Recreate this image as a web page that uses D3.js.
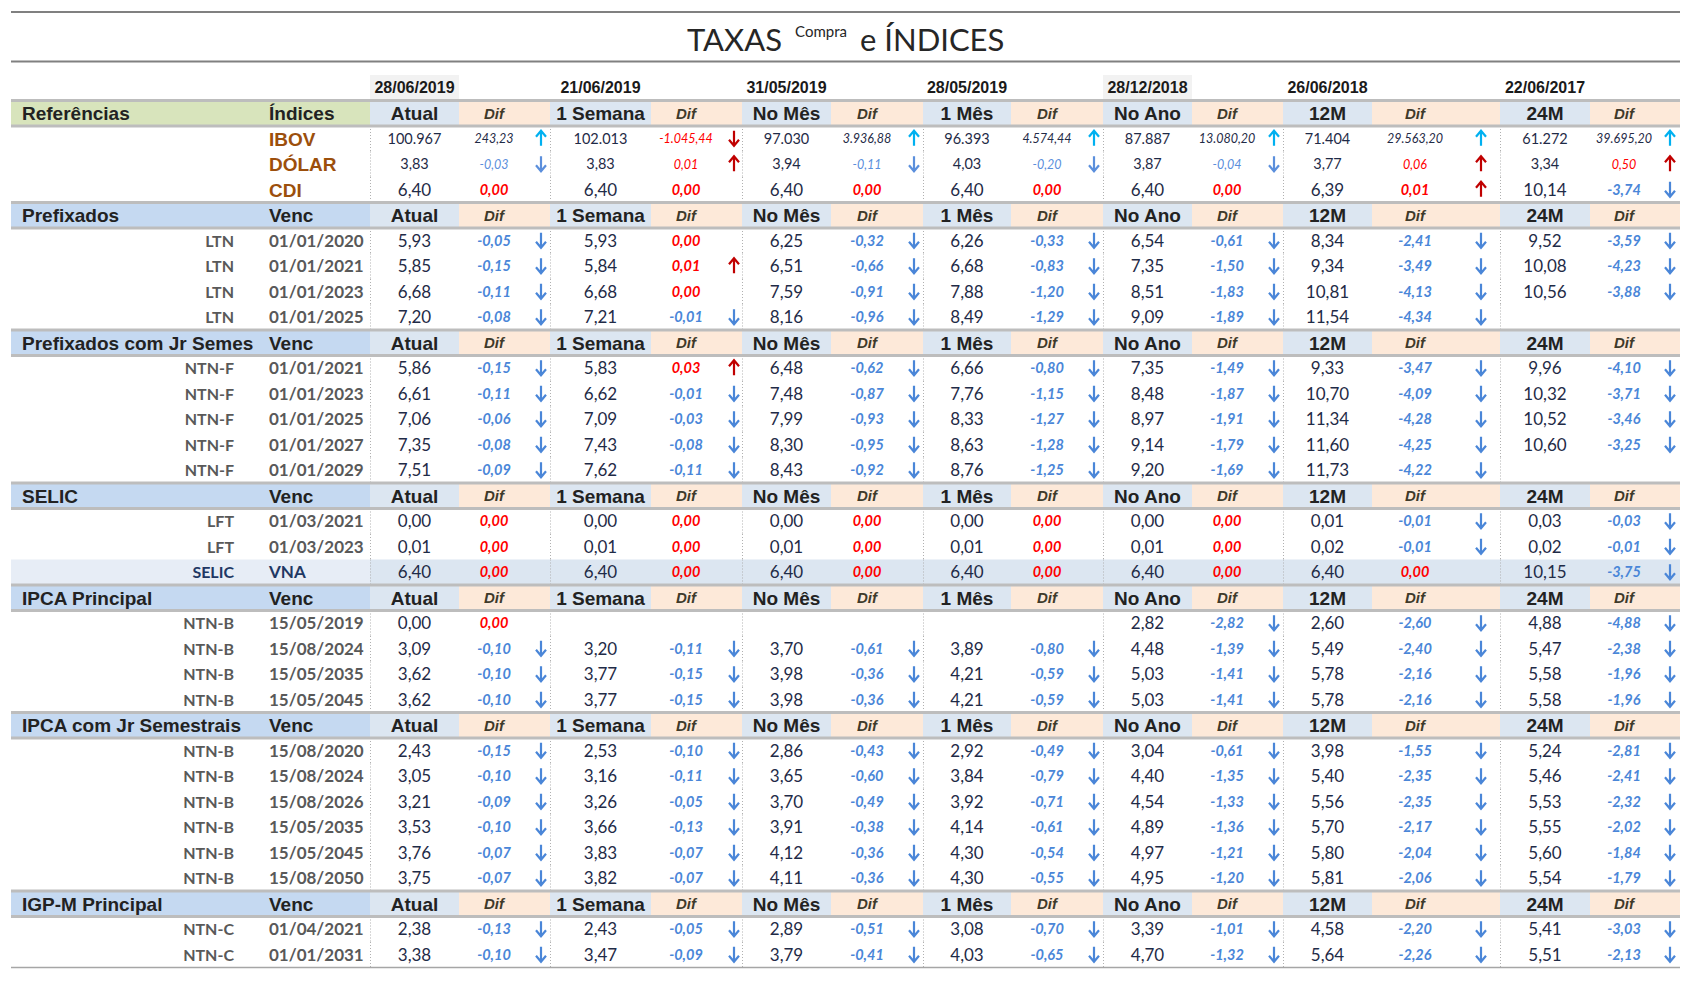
<!DOCTYPE html>
<html><head><meta charset="utf-8">
<script src="https://cdn.jsdelivr.net/npm/d3@7"></script>
<style>body{margin:0;background:#fff} svg{display:block}</style>
</head><body><svg id="c" width="1692" height="982"></svg>
<script>
// ---------------- DATA ----------------
const periods = ["Atual","1 Semana","No Mês","1 Mês","No Ano","12M","24M"];
const periodDates = ["28/06/2019","21/06/2019","31/05/2019","28/05/2019","28/12/2018","26/06/2018","22/06/2017"];
const highlightedDates = ["28/06/2019","28/12/2018"];

const refNames = ["IBOV","DÓLAR","CDI"];
const refValues = [
  [100967,102013,97030,96393,87887,71404,61272],
  [3.83,3.83,3.94,4.03,3.87,3.77,3.34],
  [6.40,6.40,6.40,6.40,6.40,6.39,10.14]
];
const refDifs = [
  [243.23,-1045.44,3936.88,4574.44,13080.20,29563.20,39695.20],
  [-0.03,0.01,-0.11,-0.20,-0.04,0.06,0.50],
  [0.00,0.00,0.00,0.00,0.00,0.01,-3.74]
];

const sectionNames = ["Prefixados","Prefixados com Jr Semestrais","SELIC","IPCA Principal","IPCA  com Jr Semestrais","IGP-M Principal"];

const ltnTipo = ["LTN","LTN","LTN","LTN"];
const ltnVenc = ["01/01/2020","01/01/2021","01/01/2023","01/01/2025"];
const ltnValues = [
  [5.93,5.93,6.25,6.26,6.54,8.34,9.52],
  [5.85,5.84,6.51,6.68,7.35,9.34,10.08],
  [6.68,6.68,7.59,7.88,8.51,10.81,10.56],
  [7.20,7.21,8.16,8.49,9.09,11.54,null]
];
const ltnDifs = [
  [-0.05,0.00,-0.32,-0.33,-0.61,-2.41,-3.59],
  [-0.15,0.01,-0.66,-0.83,-1.50,-3.49,-4.23],
  [-0.11,0.00,-0.91,-1.20,-1.83,-4.13,-3.88],
  [-0.08,-0.01,-0.96,-1.29,-1.89,-4.34,null]
];

const ntnfTipo = ["NTN-F","NTN-F","NTN-F","NTN-F","NTN-F"];
const ntnfVenc = ["01/01/2021","01/01/2023","01/01/2025","01/01/2027","01/01/2029"];
const ntnfValues = [
  [5.86,5.83,6.48,6.66,7.35,9.33,9.96],
  [6.61,6.62,7.48,7.76,8.48,10.70,10.32],
  [7.06,7.09,7.99,8.33,8.97,11.34,10.52],
  [7.35,7.43,8.30,8.63,9.14,11.60,10.60],
  [7.51,7.62,8.43,8.76,9.20,11.73,null]
];
const ntnfDifs = [
  [-0.15,0.03,-0.62,-0.80,-1.49,-3.47,-4.10],
  [-0.11,-0.01,-0.87,-1.15,-1.87,-4.09,-3.71],
  [-0.06,-0.03,-0.93,-1.27,-1.91,-4.28,-3.46],
  [-0.08,-0.08,-0.95,-1.28,-1.79,-4.25,-3.25],
  [-0.09,-0.11,-0.92,-1.25,-1.69,-4.22,null]
];

const selicTipo = ["LFT","LFT","SELIC"];
const selicVenc = ["01/03/2021","01/03/2023","VNA"];
const selicValues = [
  [0.00,0.00,0.00,0.00,0.00,0.01,0.03],
  [0.01,0.01,0.01,0.01,0.01,0.02,0.02],
  [6.40,6.40,6.40,6.40,6.40,6.40,10.15]
];
const selicDifs = [
  [0.00,0.00,0.00,0.00,0.00,-0.01,-0.03],
  [0.00,0.00,0.00,0.00,0.00,-0.01,-0.01],
  [0.00,0.00,0.00,0.00,0.00,0.00,-3.75]
];

const ipcaTipo = ["NTN-B","NTN-B","NTN-B","NTN-B"];
const ipcaVenc = ["15/05/2019","15/08/2024","15/05/2035","15/05/2045"];
const ipcaValues = [
  [0.00,null,null,null,2.82,2.60,4.88],
  [3.09,3.20,3.70,3.89,4.48,5.49,5.47],
  [3.62,3.77,3.98,4.21,5.03,5.78,5.58],
  [3.62,3.77,3.98,4.21,5.03,5.78,5.58]
];
const ipcaDifs = [
  [0.00,null,null,null,-2.82,-2.60,-4.88],
  [-0.10,-0.11,-0.61,-0.80,-1.39,-2.40,-2.38],
  [-0.10,-0.15,-0.36,-0.59,-1.41,-2.16,-1.96],
  [-0.10,-0.15,-0.36,-0.59,-1.41,-2.16,-1.96]
];

const ipcaJrTipo = ["NTN-B","NTN-B","NTN-B","NTN-B","NTN-B","NTN-B"];
const ipcaJrVenc = ["15/08/2020","15/08/2024","15/08/2026","15/05/2035","15/05/2045","15/08/2050"];
const ipcaJrValues = [
  [2.43,2.53,2.86,2.92,3.04,3.98,5.24],
  [3.05,3.16,3.65,3.84,4.40,5.40,5.46],
  [3.21,3.26,3.70,3.92,4.54,5.56,5.53],
  [3.53,3.66,3.91,4.14,4.89,5.70,5.55],
  [3.76,3.83,4.12,4.30,4.97,5.80,5.60],
  [3.75,3.82,4.11,4.30,4.95,5.81,5.54]
];
const ipcaJrDifs = [
  [-0.15,-0.10,-0.43,-0.49,-0.61,-1.55,-2.81],
  [-0.10,-0.11,-0.60,-0.79,-1.35,-2.35,-2.41],
  [-0.09,-0.05,-0.49,-0.71,-1.33,-2.35,-2.32],
  [-0.10,-0.13,-0.38,-0.61,-1.36,-2.17,-2.02],
  [-0.07,-0.07,-0.36,-0.54,-1.21,-2.04,-1.84],
  [-0.07,-0.07,-0.36,-0.55,-1.20,-2.06,-1.79]
];

const igpmTipo = ["NTN-C","NTN-C"];
const igpmVenc = ["01/04/2021","01/01/2031"];
const igpmValues = [
  [2.38,2.43,2.89,3.08,3.39,4.58,5.41],
  [3.38,3.47,3.79,4.03,4.70,5.64,5.51]
];
const igpmDifs = [
  [-0.13,-0.05,-0.51,-0.70,-1.01,-2.20,-3.03],
  [-0.10,-0.09,-0.41,-0.65,-1.32,-2.26,-2.13]
];

// ---------------- BUILD ROWS ----------------
const rows = [];
rows.push({type:"head", name:"Referências", sub:"Índices", ref:true});
refNames.forEach((n,i)=>rows.push({type:"ref", label:n, values:refValues[i], difs:refDifs[i], small:i<2, inverse:i===0, intVal:i===0}));
const sections = [
  [ltnTipo,ltnVenc,ltnValues,ltnDifs],
  [ntnfTipo,ntnfVenc,ntnfValues,ntnfDifs],
  [selicTipo,selicVenc,selicValues,selicDifs],
  [ipcaTipo,ipcaVenc,ipcaValues,ipcaDifs],
  [ipcaJrTipo,ipcaJrVenc,ipcaJrValues,ipcaJrDifs],
  [igpmTipo,igpmVenc,igpmValues,igpmDifs]
];
sections.forEach((s,si)=>{
  rows.push({type:"head", name:sectionNames[si], sub:"Venc"});
  s[0].forEach((t,i)=>rows.push({type:"data", tipo:t, venc:s[1][i], values:s[2][i], difs:s[3][i], hl:(t==="SELIC")}));
});

// ---------------- LAYOUT ----------------
const svg = d3.select("#c");
const X0 = 11, X1 = 1680, labelEnd = 370;
const y = d3.scaleBand().domain(d3.range(rows.length)).range([100.5, 100.5 + rows.length*25.5]);
const bh = y.bandwidth();
const gx0 = d3.scaleOrdinal().domain(periods).range([370,550,742,923,1103,1283,1500]);
const vx1 = d3.scaleOrdinal().domain(periods).range([459,651,831,1011,1192,1372,1590]);
const gx1 = d3.scaleOrdinal().domain(periods).range([550,742,923,1103,1283,1500,1680]);
const difX = d3.scaleOrdinal().domain(periods).range([494,686,867,1047,1227,1415,1624]);
const arrX = d3.scaleOrdinal().domain(periods).range([541,734,914,1094,1274,1481,1670]);
const valX = p => (gx0(p)+vx1(p))/2;

const loc = d3.formatLocale({decimal:",", thousands:".", grouping:[3], currency:["R$",""], minus:"-"});
const fInt = loc.format(",.0f"), f2 = loc.format(",.2f");

const ARIAL = "'Liberation Sans', Arial, sans-serif";
const LATO = "Lato, 'Open Sans', sans-serif";
const C_VAL = "#1f2b47", C_BLUE = "#4a86d8", C_RED = "#ff0000", C_DRED = "#c00000", C_CYAN = "#00b0f0", C_LBL = "#595959";

// Title
svg.append("line").attr("x1",X0).attr("x2",X1).attr("y1",12).attr("y2",12).attr("stroke","#808080").attr("stroke-width",2);
svg.append("line").attr("x1",X0).attr("x2",X1).attr("y1",61.5).attr("y2",61.5).attr("stroke","#808080").attr("stroke-width",2);
svg.append("text").attr("x",782).attr("y",51).attr("text-anchor","end").attr("font-family",LATO).attr("font-size",31).attr("fill","#262626").text("TAXAS");
svg.append("text").attr("x",821).attr("y",37).attr("text-anchor","middle").attr("font-family",LATO).attr("font-size",15).attr("fill","#262626").text("Compra");
svg.append("text").attr("x",860).attr("y",51).attr("text-anchor","start").attr("font-family",LATO).attr("font-size",31).attr("fill","#262626").text("e ÍNDICES");

// Date row
const dateTop = 75, dateBot = 100;
periods.forEach((p,i)=>{
  if (highlightedDates.includes(periodDates[i]))
    svg.append("rect").attr("x",gx0(p)).attr("y",dateTop).attr("width",vx1(p)-gx0(p)).attr("height",dateBot-dateTop).attr("fill","#f2f2f2");
  svg.append("text").attr("x",valX(p)).attr("y",(dateTop+dateBot)/2).attr("dy","0.36em").attr("text-anchor","middle")
    .attr("font-family",ARIAL).attr("font-weight","bold").attr("font-size",16).attr("fill","#1a1a1a").text(periodDates[i]);
});

const bgG = svg.append("g"), sepG = svg.append("g"), lineG = svg.append("g"), txtG = svg.append("g");

function arrow(x, cy, up, color){
  const t = cy-8, b = cy+7;
  const d = up ? `M${x},${b}L${x},${t}M${x-5},${t+6}L${x},${t}L${x+5},${t+6}`
               : `M${x},${t}L${x},${b}M${x-5},${b-6}L${x},${b}L${x+5},${b-6}`;
  txtG.append("path").attr("d",d).attr("fill","none").attr("stroke",color).attr("stroke-width",2.2).attr("stroke-linecap","butt");
}

rows.forEach((r,i)=>{
  const top = y(i), cy = top + bh/2;
  if (r.type==="head") {
    bgG.append("rect").attr("x",X0).attr("y",top).attr("width",labelEnd-X0).attr("height",bh).attr("fill", r.ref?"#d8e4bc":"#c5d9f1");
    periods.forEach(p=>{
      bgG.append("rect").attr("x",gx0(p)).attr("y",top).attr("width",vx1(p)-gx0(p)).attr("height",bh).attr("fill","#dce6f1");
      bgG.append("rect").attr("x",vx1(p)).attr("y",top).attr("width",gx1(p)-vx1(p)).attr("height",bh).attr("fill","#fde9d9");
      txtG.append("text").attr("x",valX(p)).attr("y",cy).attr("dy","0.36em").attr("text-anchor","middle")
        .attr("font-family",ARIAL).attr("font-weight","bold").attr("font-size",19).attr("fill","#222").text(p);
      txtG.append("text").attr("x",difX(p)).attr("y",cy).attr("dy","0.36em").attr("text-anchor","middle")
        .attr("font-family",ARIAL).attr("font-weight","bold").attr("font-style","italic").attr("font-size",15).attr("fill","#3f3a2b").text("Dif");
    });
    lineG.append("line").attr("x1",X0).attr("x2",X1).attr("y1",top).attr("y2",top).attr("stroke","#bdbdbd").attr("stroke-width",3);
    lineG.append("line").attr("x1",X0).attr("x2",X1).attr("y1",top+bh).attr("y2",top+bh).attr("stroke","#bdbdbd").attr("stroke-width",3);
    // section name: truncated to the cell width like the spreadsheet cell
    const nm = txtG.append("text").attr("x",22).attr("y",cy).attr("dy","0.36em")
      .attr("font-family",ARIAL).attr("font-weight","bold").attr("font-size",19).attr("fill","#222").text(r.name);
    let s = r.name;
    while (nm.node().getComputedTextLength() > 236 && s.length > 1) { s = s.slice(0,-1); nm.text(s); }
    txtG.append("text").attr("x",269).attr("y",cy).attr("dy","0.36em")
      .attr("font-family",ARIAL).attr("font-weight","bold").attr("font-size",19).attr("fill","#222").text(r.sub);
    return;
  }
  if (r.hl) {
    bgG.append("rect").attr("x",X0).attr("y",top).attr("width",labelEnd-X0).attr("height",bh).attr("fill","#e7edf6");
    bgG.append("rect").attr("x",labelEnd).attr("y",top).attr("width",X1-labelEnd).attr("height",bh).attr("fill","#dce6f1");
  }
  periods.forEach(p=>{
    sepG.append("line").attr("x1",gx0(p)+0.5).attr("x2",gx0(p)+0.5).attr("y1",top).attr("y2",top+bh)
      .attr("stroke","#b0b0b0").attr("stroke-width",1).attr("stroke-dasharray","1,2");
  });
  if (r.type==="ref") {
    txtG.append("text").attr("x",269).attr("y",cy).attr("dy","0.36em")
      .attr("font-family",ARIAL).attr("font-weight","bold").attr("font-size",19).attr("fill","#9c4f0c").text(r.label);
  } else {
    const lc = r.hl ? "#1f3864" : C_LBL;
    txtG.append("text").attr("x",234).attr("y",cy).attr("dy","0.36em").attr("text-anchor","end")
      .attr("font-family",LATO).attr("font-weight","bold").attr("font-size",16).attr("fill",lc).text(r.tipo);
    txtG.append("text").attr("x",269).attr("y",cy).attr("dy","0.36em")
      .attr("font-family",LATO).attr("font-weight","bold").attr("font-size",17).attr("fill",lc).text(r.venc);
  }
  periods.forEach((p,k)=>{
    const v = r.values[k], d = r.difs[k];
    if (v == null) return;
    txtG.append("text").attr("x",valX(p)).attr("y",cy).attr("dy","0.36em").attr("text-anchor","middle")
      .attr("font-family",LATO).attr("font-size", r.small?14.5:17).attr("fill",C_VAL).text(r.intVal ? fInt(v) : f2(v));
    if (d == null) return;
    let col, acol = null, up = d > 0;
    const dz = Math.abs(d) < 1e-9;
    if (r.small) {
      if (r.inverse) { col = d < 0 ? C_RED : C_VAL; acol = d < 0 ? C_DRED : C_CYAN; }
      else { col = d < 0 ? "#5b8fdc" : C_RED; acol = d < 0 ? "#5b8fdc" : C_DRED; }
    } else {
      col = d < 0 ? C_BLUE : C_RED;
      if (!dz) acol = d < 0 ? C_BLUE : C_DRED;
    }
    txtG.append("text").attr("x",difX(p)).attr("y",cy).attr("dy","0.36em").attr("text-anchor","middle")
      .attr("font-family",LATO).attr("font-style","italic").attr("font-weight", r.small?"normal":"bold")
      .attr("font-size", r.small?12.5:14.5).attr("fill",col).text(f2(d));
    if (acol && !dz) arrow(arrX(p), cy, up, acol);
  });
});
// bottom line
const lastBot = y(rows.length-1) + bh;
lineG.append("line").attr("x1",X0).attr("x2",X1).attr("y1",lastBot).attr("y2",lastBot).attr("stroke","#a6a6a6").attr("stroke-width",1.5);
</script></body></html>
